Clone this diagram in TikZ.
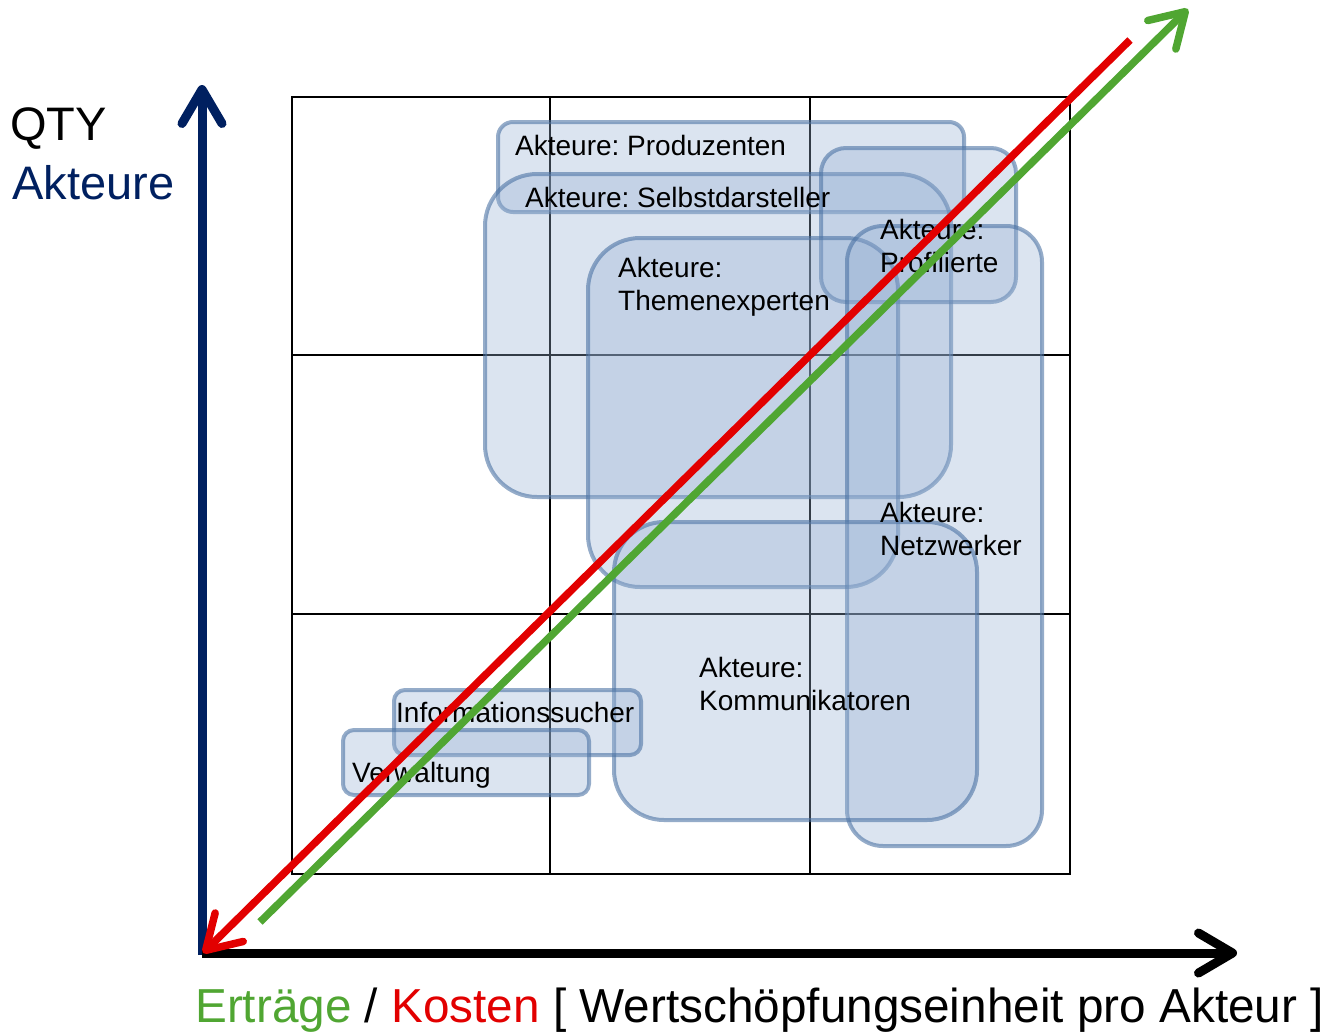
\documentclass[tikz,border=0pt]{standalone}
\usepackage{fontspec}
\setmainfont{Liberation Sans}
\usetikzlibrary{arrows.meta}
\definecolor{navyax}{RGB}{0,32,96}
\definecolor{redln}{RGB}{226,0,0}
\definecolor{greenln}{RGB}{80,166,50}
\definecolor{boxfill}{RGB}{150,176,211}
\definecolor{boxline}{RGB}{72,112,162}
\begin{document}
\frenchspacing
\begin{tikzpicture}[x=1pt,y=-1pt,
  gridline/.style={line width=2.6pt, black},
  actbox/.style={fill=boxfill, fill opacity=0.34, draw=boxline, draw opacity=0.58, line width=4pt},
  lbl/.style={anchor=base west, inner sep=0pt, font=\fontsize{28}{33}\selectfont, align=left},
  big/.style={anchor=base west, inner sep=0pt, font=\fontsize{47}{52}\selectfont},
  axisarrow/.style={line width=9pt, -{Straight Barb[round, length=34pt, width=40pt]}},
  diagarrow/.style={line width=7.5pt, -{Straight Barb[round, length=33pt, width=40pt]}}
]
\useasboundingbox (0,0) rectangle (1329,1033);

% grid
\draw[gridline] (292,97) rectangle (1070,874);
\draw[gridline] (550,97) -- (550,874);
\draw[gridline] (810,97) -- (810,874);
\draw[gridline] (292,355) -- (1070,355);
\draw[gridline] (292,614) -- (1070,614);

% actor boxes
\draw[actbox, rounded corners=15] (498,122) rectangle (964,212);
\draw[actbox, rounded corners=52] (485,174) rectangle (951,497);
\draw[actbox, rounded corners=25] (821,148) rectangle (1016,302);
\draw[actbox, rounded corners=52] (588,238) rectangle (898,587);
\draw[actbox, rounded corners=36] (847,226) rectangle (1042,846);
\draw[actbox, rounded corners=50] (614,522) rectangle (977,820);
\draw[actbox, rounded corners=11] (394,690) rectangle (641,755);
\draw[actbox, rounded corners=11] (343,730) rectangle (589,795);

% labels
\node[lbl] (prod) at (515,155) {Akteure: Produzenten};
\node[lbl] (selbst) at (525,207) {Akteure: Selbstdarsteller};
\node[lbl] (prof1) at (880,239) {Akteure:};
\node[lbl] (prof2) at (880,272) {Profilierte};
\node[lbl] (them1) at (618,277) {Akteure:};
\node[lbl] (them2) at (618,310) {Themenexperten};
\node[lbl] (netz1) at (880,522) {Akteure:};
\node[lbl] (netz2) at (880,555) {Netzwerker};
\node[lbl] (komm1) at (699,677) {Akteure:};
\node[lbl] (komm2) at (699,710) {Kommunikatoren};
\node[lbl] (info) at (396,722) {Informationssucher};
\node[lbl] (verw) at (352,782) {Verwaltung};

% axis titles
\node[big] (qty) at (10,140) {QTY};
\node[big, text=navyax] (akt) at (12,199) {Akteure};
\node[big, font=\fontsize{47.7}{52}\selectfont] (xlab) at (195,1022) {\textcolor{greenln}{Erträge} / \textcolor{redln}{Kosten} [ Wertschöpfungseinheit pro Akteur ]};

% axes
\coordinate (ybot) at (202,955);
\coordinate (ytip) at (202,85);
\coordinate (xleft) at (202,953);
\coordinate (xtip) at (1237,953);
\draw[axisarrow, navyax] (ybot) -- (ytip);
\draw[axisarrow, black, line cap=butt] (xleft) -- (xtip);

% diagonal arrows
\coordinate (gstart) at (260,922);
\coordinate (gtip) at (1188,9);
\coordinate (rstart) at (1130,40);
\coordinate (rtip) at (203,953);
\draw[diagarrow, greenln] (gstart) -- (gtip);
\draw[diagarrow, redln] (rstart) -- (rtip);
\end{tikzpicture}
\end{document}
